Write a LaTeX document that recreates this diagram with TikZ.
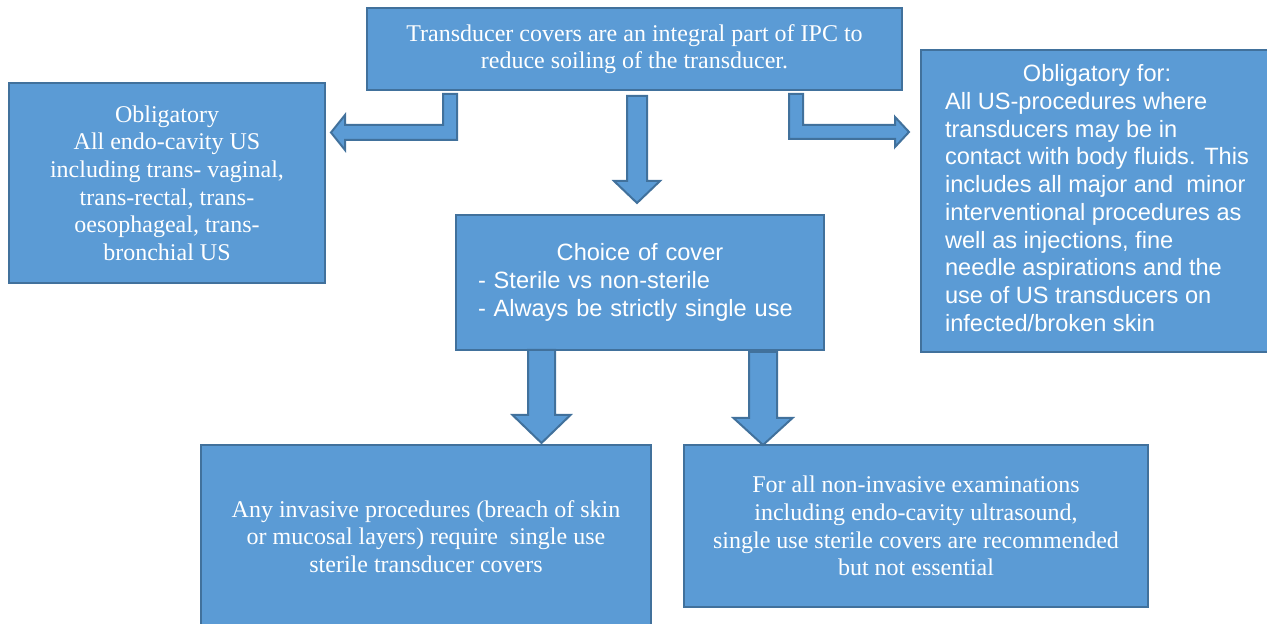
\documentclass[tikz,border=0pt]{standalone}
\usepackage{fontspec}
\setmainfont{Liberation Serif}
\setsansfont{Liberation Sans}
\usetikzlibrary{calc}
\definecolor{coverBlue}{HTML}{5B9BD5}
\definecolor{edgeBlue}{HTML}{41719C}

\begin{document}
\begin{tikzpicture}[x=0.5pt,y=-0.5pt,
  box/.style={draw=edgeBlue,fill=coverBlue,line width=1pt,text=white,inner sep=0pt,outer sep=0pt},
  serifText/.style={font=\fontsize{12}{13.8}\selectfont,align=center},
  sansText/.style={font=\sffamily\fontsize{11.8}{13.85}\selectfont},
  blockArrow/.style={draw=edgeBlue,fill=coverBlue,line width=1pt,line join=miter},
  blockDown/.style n args={3}{blockArrow,to path={
    ($(\tikztostart)+(-#1,0)$) -- ($(\tikztostart)+(#1,0)$) -- ($(\tikztotarget)+(#1,-#3)$)
    -- ($(\tikztotarget)+(#2,-#3)$) -- (\tikztotarget) -- ($(\tikztotarget)+(-#2,-#3)$)
    -- ($(\tikztotarget)+(-#1,-#3)$) -- cycle}}]
\useasboundingbox (0,0) rectangle (1267,624);
% boxes
\node[box,serifText,minimum width=267.5pt,minimum height=41pt] (ipc) at (634.5,49)
  {Transducer covers are an integral part of IPC to\\reduce soiling of the transducer.};
\node[box,serifText,minimum width=158pt,minimum height=100pt] (endo) at (167,183)
  {Obligatory\\All endo-cavity US\\including trans- vaginal,\\trans-rectal, trans-\\oesophageal, trans-\\bronchial US};
\node[box,sansText,minimum width=176pt,minimum height=151pt] (fluids) at (1097,201)
  {\begin{tabular}{@{}l@{}}\multicolumn{1}{@{}c@{}}{Obligatory for:}\\All US-procedures where\\transducers may be in\\contact with body fluids. This\\includes all major and\ \ minor\\interventional procedures as\\well as injections, fine\\needle aspirations and the\\use of US transducers on\\infected/broken skin\end{tabular}};
\node[box,sansText,align=left,text width=162pt,minimum width=184pt,minimum height=67.5pt] (choice) at (640,282.5)
  {{\centering Choice of cover\par}\noindent- Sterile vs non-sterile\\- Always be strictly single use};
\node[box,serifText,minimum width=225pt,minimum height=91.5pt] (invasive) at (426,536.5)
  {Any invasive procedures (breach of skin\\or mucosal layers) require\ \ single use\\sterile transducer covers};
\node[box,serifText,minimum width=232pt,minimum height=81pt] (noninvasive) at (916,526)
  {For all non-invasive examinations\\including endo-cavity ultrasound,\\single use sterile covers are recommended\\but not essential};
% bent arrows
\coordinate (lStart) at ($(ipc.south)+(-184.5,4)$);
\coordinate (lTip) at ($(endo.east)+(6,-50.5)$);
\draw[blockArrow] ($(lStart)+(-7,0)$) -- ($(lStart)+(7,0)$) -- ($(lStart |- lTip)+(7,7.5)$)
  -- ($(lTip)+(14,7.5)$) -- ($(lTip)+(14,17.5)$) -- (lTip) -- ($(lTip)+(14,-17.5)$)
  -- ($(lTip)+(14,-7.5)$) -- ($(lStart |- lTip)+(-7,-7.5)$) -- cycle;
\coordinate (rStart) at ($(ipc.south)+(161.5,4)$);
\coordinate (rTip) at ($(fluids.west)+(-12,-69)$);
\draw[blockArrow] ($(rStart)+(7,0)$) -- ($(rStart)+(-7,0)$) -- ($(rStart |- rTip)+(-7,7)$)
  -- ($(rTip)+(-14,7)$) -- ($(rTip)+(-14,15)$) -- (rTip) -- ($(rTip)+(-14,-15)$)
  -- ($(rTip)+(-14,-7)$) -- ($(rStart |- rTip)+(7,-7)$) -- cycle;
% down arrows
\draw[blockDown={10}{23}{22}] ($(ipc.south)+(2.5,6)$) to ($(choice.north)+(-3,-12)$);
\draw[blockDown={13.5}{29}{28}] ($(choice.south)+(-98.5,0)$) to ($(invasive.north)+(115.5,-2)$);
\draw[blockDown={14}{29.5}{27}] ($(choice.south)+(123,2)$) to ($(noninvasive.north)+(-153,0)$);
\end{tikzpicture}
\end{document}
